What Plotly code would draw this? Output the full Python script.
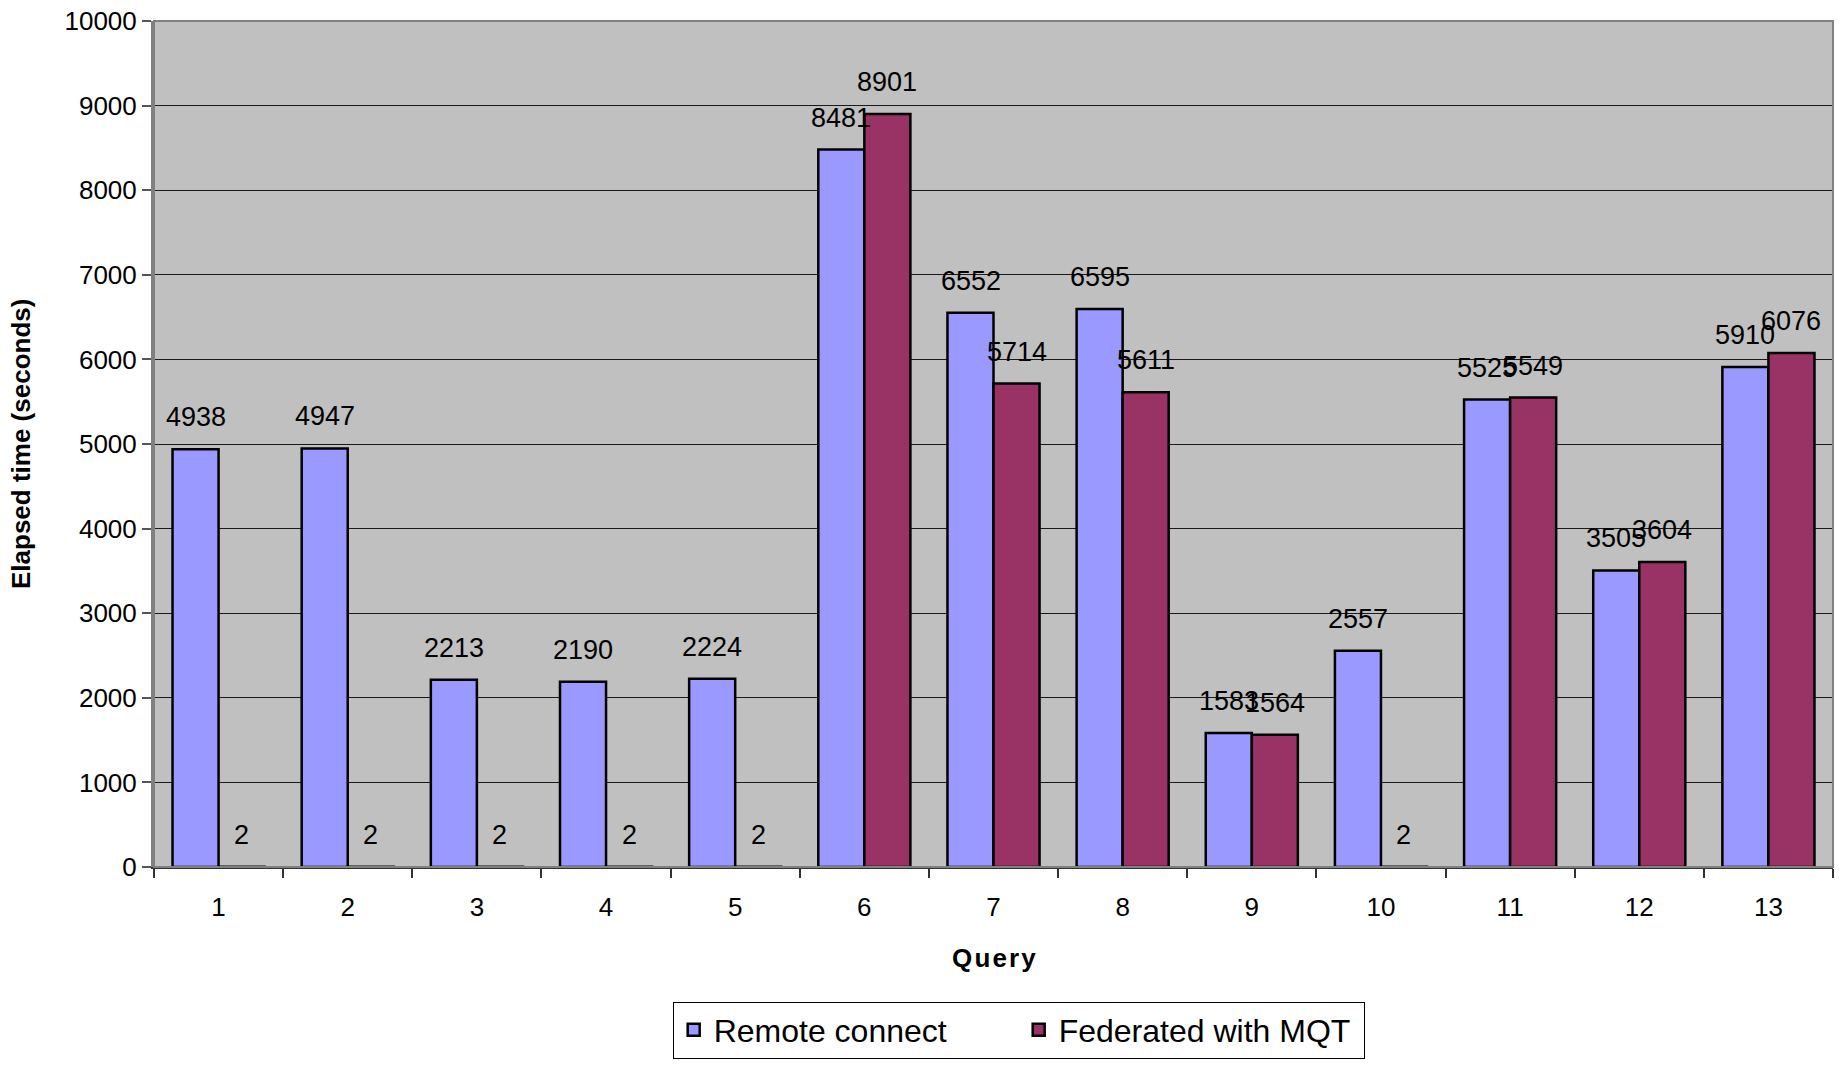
import plotly.graph_objects as go

queries = ["1", "2", "3", "4", "5", "6", "7", "8", "9", "10", "11", "12", "13"]
remote_connect = [4938, 4947, 2213, 2190, 2224, 8481, 6552, 6595, 1583, 2557, 5525, 3505, 5910]
federated_mqt = [2, 2, 2, 2, 2, 8901, 5714, 5611, 1564, 2, 5549, 3604, 6076]
y_ticks = [0, 1000, 2000, 3000, 4000, 5000, 6000, 7000, 8000, 9000, 10000]

FONT = "Liberation Sans, Arial, sans-serif"

fig = go.Figure()
fig.add_trace(go.Bar(
    x=queries, y=remote_connect, name="Remote connect",
    marker=dict(color="#9999FF", line=dict(color="#000000", width=2.5)),
))
fig.add_trace(go.Bar(
    x=queries, y=federated_mqt, name="Federated with MQT",
    marker=dict(color="#993366", line=dict(color="#000000", width=2.5)),
))

annotations = []
for vals, shift in ((remote_connect, -23), (federated_mqt, 23)):
    for i, v in enumerate(vals):
        annotations.append(dict(
            x=i, y=v, xref="x", yref="y", text=str(v), showarrow=False,
            xshift=shift, yshift=15, yanchor="bottom", xanchor="center",
            font=dict(family=FONT, size=27, color="#000000"),
        ))

annotations.append(dict(
    x=-0.0792, y=0.5, xref="paper", yref="paper", text="<b>Elapsed time (seconds)</b>",
    textangle=-90, showarrow=False, xanchor="center", yanchor="middle",
    font=dict(family=FONT, size=26, color="#000000"),
))
annotations.append(dict(
    x=0.5, y=-0.107, xref="paper", yref="paper", text="<b>Q u e r y</b>".replace(" ", "&#8202;"),
    showarrow=False, xanchor="center", yanchor="middle",
    font=dict(family=FONT, size=26, color="#000000"),
))

fig.update_layout(
    width=1839, height=1065,
    margin=dict(l=154, r=6, t=16, b=198),
    paper_bgcolor="#FFFFFF",
    plot_bgcolor="#C0C0C0",
    barmode="group",
    bargap=0.287,
    bargroupgap=0,
    font=dict(family=FONT, size=26, color="#000000"),
    annotations=annotations,
    legend=dict(
        orientation="h", x=0.515, y=-0.159, xanchor="center", yanchor="top",
        bordercolor="#000000", borderwidth=1, bgcolor="#FFFFFF",
        font=dict(family=FONT, size=32, color="#000000"),
        entrywidth=300, entrywidthmode="pixels",
    ),
    xaxis=dict(
        type="category", tickson="boundaries", ticks="outside", ticklen=9,
        tickcolor="#333333", tickwidth=1.5, showgrid=False,
        showline=True, linecolor="#333333", linewidth=2,
        tickfont=dict(family=FONT, size=26), ticklabelstandoff=16,
    ),
    yaxis=dict(
        range=[0, 10000], tickvals=y_ticks, ticktext=[str(t) for t in y_ticks],
        ticks="outside", ticklen=9,
        tickcolor="#555555", tickwidth=1.5,
        showgrid=True, gridcolor="#1a1a1a", gridwidth=1,
        showline=True, linecolor="#808080", linewidth=3,
        zeroline=False, tickfont=dict(family=FONT, size=26),
    ),
    shapes=[dict(type="rect", xref="paper", yref="paper", x0=0, x1=1, y0=0, y1=1,
                 line=dict(color="#808080", width=2), layer="above")],
)

fig.write_html("out.html")
